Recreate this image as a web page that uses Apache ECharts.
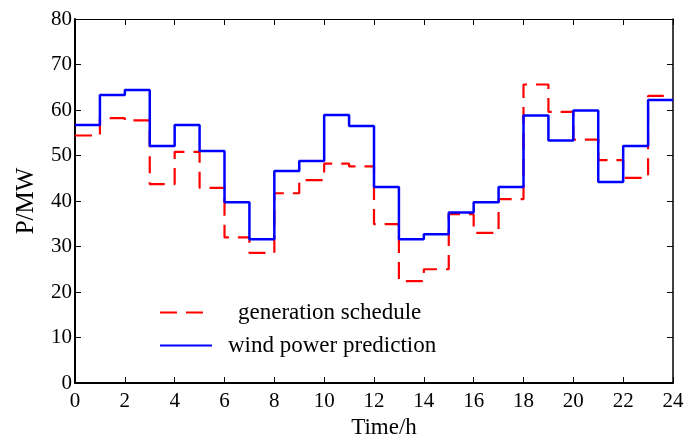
<!DOCTYPE html>
<html>
<head>
<meta charset="utf-8">
<script src="https://cdn.jsdelivr.net/npm/echarts@6/dist/echarts.min.js"></script>
<style>html,body{margin:0;padding:0;background:#fff;}#c{width:689px;height:437px;}</style>
</head>
<body>
<div id="c"></div>
<script>
const hours = [0,1,2,3,4,5,6,7,8,9,10,11,12,13,14,15,16,17,18,19,20,21,22,23,24];
const generationSchedule = [54.4,58.2,57.7,43.7,50.8,42.9,32.0,28.6,41.7,44.6,48.2,47.6,34.9,22.4,25.0,37.1,33.0,40.4,65.6,59.6,53.5,49.0,45.1,63.1];
const windPrediction = [56.7,63.3,64.4,52.1,56.7,51.0,39.7,31.6,46.6,48.8,58.9,56.5,43.1,31.6,32.7,37.5,39.7,43.1,58.8,53.3,59.9,44.2,52.1,62.2];
const seriesNames = ['generation schedule','wind power prediction'];
const xTicks = {min:0,max:24,interval:2};
const yTicks = {min:0,max:80,interval:10};

function stepData(vals){
  const d = vals.map((v,i)=>[hours[i],v]);
  d.push([hours[vals.length], vals[vals.length-1]]);
  return d;
}
const font = 'Liberation Serif, Times New Roman, serif';
const chart = echarts.init(document.getElementById('c'));
chart.setOption({
  animation:false,
  backgroundColor:'#fff',
  grid:{left:75,right:16,top:19,bottom:54,show:false,containLabel:false,outerBoundsMode:'none'},
  xAxis:[{
    type:'value',min:xTicks.min,max:xTicks.max,interval:xTicks.interval,
    name:'Time/h',nameLocation:'middle',nameGap:32,
    nameTextStyle:{fontFamily:font,fontSize:23,color:'#000',padding:[0,0,0,20]},
    axisLine:{show:true,onZero:false,lineStyle:{color:'#000',width:2}},
    axisTick:{show:true,inside:true,length:6,lineStyle:{color:'#000',width:1}},
    axisLabel:{fontFamily:font,fontSize:21,color:'#000',margin:8},
    splitLine:{show:false}
  },{
    type:'value',position:'top',min:xTicks.min,max:xTicks.max,interval:xTicks.interval,
    axisLine:{show:true,onZero:false,lineStyle:{color:'#000',width:1}},
    axisTick:{show:true,inside:true,length:6,lineStyle:{color:'#000'}},
    axisLabel:{show:false},splitLine:{show:false}
  }],
  yAxis:[{
    type:'value',min:yTicks.min,max:yTicks.max,interval:yTicks.interval,
    name:'P/MW',nameLocation:'middle',nameGap:36,nameRotate:90,
    nameTextStyle:{fontFamily:font,fontSize:25,color:'#000'},
    axisLine:{show:true,onZero:false,lineStyle:{color:'#000',width:2}},
    axisTick:{show:true,inside:true,length:6,lineStyle:{color:'#000',width:1}},
    axisLabel:{fontFamily:font,fontSize:21,color:'#000',margin:3},
    splitLine:{show:false}
  },{
    type:'value',position:'right',min:yTicks.min,max:yTicks.max,interval:yTicks.interval,
    axisLine:{show:true,onZero:false,lineStyle:{color:'#000',width:1.5}},
    axisTick:{show:true,inside:true,length:6,lineStyle:{color:'#000'}},
    axisLabel:{show:false},splitLine:{show:false}
  }],
  legend:[{
    data:[seriesNames[0]],left:154,top:296,itemWidth:52,itemHeight:20,
    itemStyle:{opacity:0},
    textStyle:{fontFamily:font,fontSize:23,color:'#000',padding:[0,0,0,21]}
  },{
    data:[seriesNames[1]],left:154,top:329,itemWidth:52,itemHeight:20,
    itemStyle:{opacity:0},
    textStyle:{fontFamily:font,fontSize:23,color:'#000',padding:[0,0,0,11]}
  }],
  series:[{
    name:seriesNames[0],type:'line',step:'end',symbol:'none',
    data:stepData(generationSchedule),
    lineStyle:{color:'#ff0000',width:2.2,type:[17,9]},
    itemStyle:{color:'#ff0000'},z:2
  },{
    name:seriesNames[1],type:'line',step:'end',symbol:'none',
    data:stepData(windPrediction),
    lineStyle:{color:'#0000ff',width:2.5,type:'solid'},
    itemStyle:{color:'#0000ff'},z:3
  }]
});
</script>
</body>
</html>
